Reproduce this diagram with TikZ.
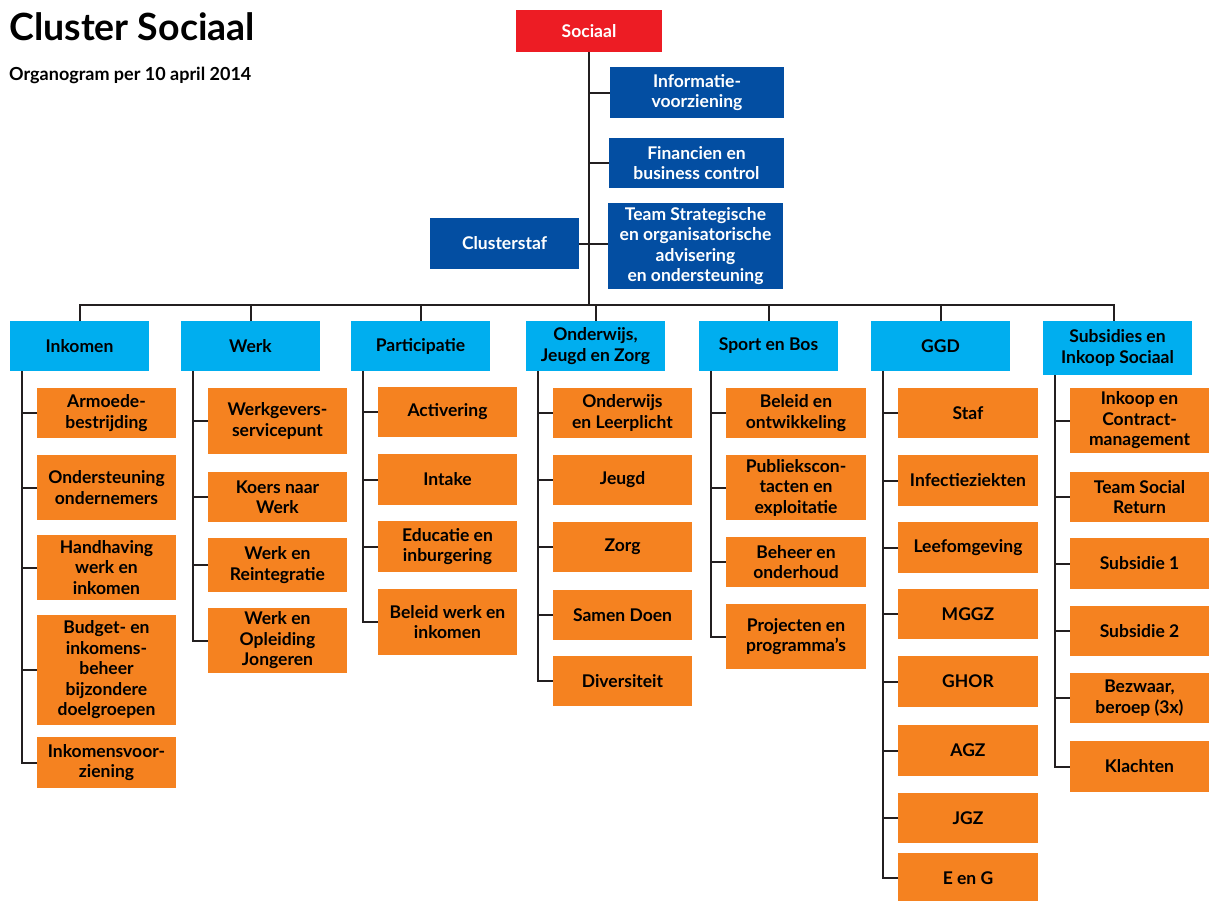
\documentclass[tikz,border=0pt]{standalone}
\usepackage{fontspec}
\setmainfont{Lato}
\definecolor{socred}{HTML}{ED1C24}
\definecolor{darkblue}{HTML}{034EA2}
\definecolor{lightblue}{HTML}{00AEEF}
\definecolor{orangec}{HTML}{F58220}
\definecolor{linec}{HTML}{231F20}
\newcommand\bx[7]{\node[#2, minimum width={#5-#3}, minimum height={#6-#4}] (#1) at ({(#3+#5)/2},{(#4+#6)/2}) {#7};}
\begin{document}
\begin{tikzpicture}[x=1pt,y=-1pt,
  boxbase/.style={inner sep=0pt, outer sep=0pt, align=center, font=\fontsize{17.5}{20.5}\selectfont\bfseries},
  socbox/.style={boxbase, fill=socred, text=white},
  staffbox/.style={boxbase, fill=darkblue, text=white},
  deptbox/.style={boxbase, fill=lightblue, text=black},
  unitbox/.style={boxbase, fill=orangec, text=black},
  conn/.style={draw=linec, line width=2pt},
  titlefont/.style={font=\fontsize{37.5}{42}\selectfont\bfseries, inner sep=0pt, anchor=base west},
  subfont/.style={font=\fontsize{18}{22}\selectfont\bfseries, inner sep=0pt, anchor=base west}]
\useasboundingbox (0,0) rectangle (1209,900);
\node[titlefont] (title) at (9,40) {Cluster Sociaal};
\node[subfont] (subtitle) at (9,80) {Organogram per 10 april 2014};
% top
\bx{soc}{socbox}{516}{10}{662}{52}{Sociaal}
\bx{info}{staffbox}{610}{67}{784}{118}{Informatie-\\voorziening}
\bx{fin}{staffbox}{609}{138}{784}{188}{Financien en\\business control}
\bx{tso}{staffbox}{608}{203}{783}{289}{Team Strategische\\en organisatorische\\advisering\\en ondersteuning}
\bx{cs}{staffbox}{430}{218}{579}{269}{Clusterstaf}
% departments
\bx{ink}{deptbox}{10}{321}{149}{371}{Inkomen}
\bx{wrk}{deptbox}{181}{321}{320}{371}{Werk}
\bx{par}{deptbox}{351}{321}{490}{371}{Participatie}
\bx{ojz}{deptbox}{526}{321}{665}{371}{Onderwijs,\\Jeugd en Zorg}
\bx{spb}{deptbox}{699}{321}{838}{371}{Sport en Bos}
\bx{ggd}{deptbox}{871}{321}{1010}{371}{GGD}
\bx{sub}{deptbox}{1043}{321}{1192}{375}{Subsidies en\\Inkoop Sociaal}
% Inkomen
\bx{i1}{unitbox}{37}{388}{176}{438}{Armoede-\\bestrijding}
\bx{i2}{unitbox}{37}{455}{176}{520}{Ondersteuning\\ondernemers}
\bx{i3}{unitbox}{37}{535}{176}{600}{Handhaving\\werk en\\inkomen}
\bx{i4}{unitbox}{37}{615}{176}{725}{Budget- en\\inkomens-\\beheer\\bijzondere\\doelgroepen}
\bx{i5}{unitbox}{37}{737}{176}{788}{Inkomensvoor-\\ziening}
% Werk
\bx{w1}{unitbox}{208}{388}{347}{454}{Werkgevers-\\servicepunt}
\bx{w2}{unitbox}{208}{472}{347}{522}{Koers naar\\Werk}
\bx{w3}{unitbox}{208}{538}{347}{592}{Werk en\\Reintegratie}
\bx{w4}{unitbox}{208}{608}{347}{673}{Werk en\\Opleiding\\Jongeren}
% Participatie
\bx{p1}{unitbox}{378}{387}{517}{437}{Activering}
\bx{p2}{unitbox}{378}{454}{517}{505}{Intake}
\bx{p3}{unitbox}{378}{521}{517}{572}{Educatie en\\inburgering}
\bx{p4}{unitbox}{378}{589}{517}{655}{Beleid werk en\\inkomen}
% OJZ
\bx{o1}{unitbox}{553}{388}{692}{438}{Onderwijs\\en Leerplicht}
\bx{o2}{unitbox}{553}{455}{692}{505}{Jeugd}
\bx{o3}{unitbox}{553}{522}{692}{572}{Zorg}
\bx{o4}{unitbox}{553}{590}{692}{640}{Samen Doen}
\bx{o5}{unitbox}{553}{656}{692}{706}{Diversiteit}
% Sport
\bx{s1}{unitbox}{726}{388}{866}{438}{Beleid en\\ontwikkeling}
\bx{s2}{unitbox}{726}{455}{866}{520}{Publiekscon-\\tacten en\\exploitatie}
\bx{s3}{unitbox}{726}{537}{866}{587}{Beheer en\\onderhoud}
\bx{s4}{unitbox}{726}{604}{866}{669}{Projecten en\\programma’s}
% GGD
\bx{g1}{unitbox}{898}{388}{1038}{438}{Staf}
\bx{g2}{unitbox}{898}{455}{1038}{506}{Infectieziekten}
\bx{g3}{unitbox}{898}{522}{1038}{573}{Leefomgeving}
\bx{g4}{unitbox}{898}{589}{1038}{639}{MGGZ}
\bx{g5}{unitbox}{898}{656}{1038}{707}{GHOR}
\bx{g6}{unitbox}{898}{725}{1038}{776}{AGZ}
\bx{g7}{unitbox}{898}{793}{1038}{843}{JGZ}
\bx{g8}{unitbox}{898}{853}{1038}{903}{E en G}
% Subsidies
\bx{u1}{unitbox}{1070}{388}{1209}{453}{Inkoop en\\Contract-\\management}
\bx{u2}{unitbox}{1070}{472}{1209}{522}{Team Social\\Return}
\bx{u3}{unitbox}{1070}{538}{1209}{589}{Subsidie 1}
\bx{u4}{unitbox}{1070}{606}{1209}{656}{Subsidie 2}
\bx{u5}{unitbox}{1070}{673}{1209}{723}{Bezwaar,\\beroep (3x)}
\bx{u6}{unitbox}{1070}{741}{1209}{792}{Klachten}
% top connectors
\coordinate (bus) at (595,305);
\draw[conn] (soc.south) -- (soc.south |- bus);
\draw[conn] (soc.south |- info.west) -- (info.west);
\draw[conn] (soc.south |- fin.west) -- (fin.west);
\draw[conn] (cs.east) -- (cs.east -| tso.west);
\draw[conn] (ink.north) -- (ink.north |- bus) -- ([xshift=-4pt]sub.north |- bus) -- ([xshift=-4pt]sub.north);
\foreach \d in {wrk,par,ojz,spb,ggd}{
  \draw[conn] (\d.north) -- (\d.north |- bus);
}
% column connectors
\foreach \p/\last/\others in {ink/i5/{i1,i2,i3,i4}, wrk/w4/{w1,w2,w3}, par/p4/{p1,p2,p3}, ojz/o5/{o1,o2,o3,o4}, spb/s4/{s1,s2,s3}, ggd/g8/{g1,g2,g3,g4,g5,g6,g7}, sub/u6/{u1,u2,u3,u4,u5}}{
  \draw[conn, line join=miter] ([xshift=12pt]\p.south west) |- (\last.west);
  \foreach \c in \others {
    \draw[conn] ([xshift=12pt]\p.south west |- \c.west) -- (\c.west);
  }
}
\end{tikzpicture}
\end{document}
